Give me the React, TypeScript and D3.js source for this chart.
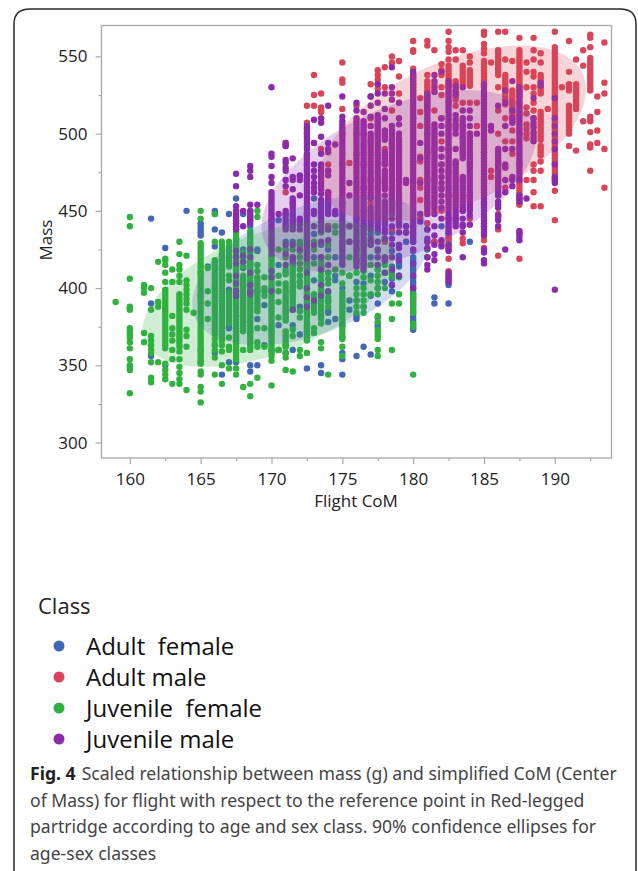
import React, { useEffect, useRef } from 'react'
import * as d3 from 'd3'

type Column = [number, number[]]

const adultFemale: Column[] = [
  [161.5, [445, 390, 356]],
  [162.5, [426, 350]],
  [164, [450]],
  [165, [442, 440, 438, 436, 434, 410, 395, 360, 352]],
  [165.5, [414]],
  [166, [450, 448, 438, 427, 417, 400, 363, 358]],
  [166.5, [436, 412, 344]],
  [167, [448, 420, 399, 397, 375, 374, 352]],
  [167.5, [458, 432, 405, 382, 360, 352]],
  [168, [448, 425, 413, 402, 378]],
  [168.5, [440, 416, 398, 372, 350, 346]],
  [169, [425, 424, 398, 380, 350]],
  [169.5, [389, 363]],
  [170, [444, 420, 400, 372, 360]],
  [170.5, [444, 415, 376, 360]],
  [171, [448, 430, 410, 385, 363, 358]],
  [171.5, [455, 444, 430, 416, 398, 376, 360]],
  [172, [444, 428, 408, 404, 388, 370]],
  [172.5, [448, 432, 416, 400, 394, 385, 372, 348]],
  [173, [458, 449, 435, 420, 405, 390]],
  [173.5, [442, 428, 414, 398, 382, 350, 345]],
  [174, [440, 425, 410, 392, 385, 384, 378]],
  [174.5, [448, 420, 408, 405, 380]],
  [175, [455, 440, 428, 415, 400, 388, 376, 368, 358, 354, 344]],
  [175.5, [430, 408, 392, 386]],
  [176, [445, 430, 418, 404, 392, 382, 380, 356]],
  [176.5, [440, 428, 416, 403, 388, 362]],
  [177, [435, 420, 408, 395, 357]],
  [177.5, [448, 436, 424, 412, 400, 390, 381, 377, 375]],
  [178, [446, 432, 418, 410, 404]],
  [178.5, [448, 436, 424, 414, 410, 406, 402, 398]],
  [179, [442, 428, 421, 418, 416, 414]],
  [179.5, [430]],
  [180, [440, 430, 424, 420, 418, 416, 414, 412, 410, 408, 406, 404, 402, 400, 398, 396, 394, 392, 390, 388, 386, 384, 382, 380, 378, 376, 374, 373]],
  [181, [438, 425, 420]],
  [181.5, [430, 394, 390]],
  [182, [440, 428]],
  [182.5, [436, 434, 432, 430, 428, 426, 425, 404, 402, 390]],
  [184, [430]],
]

const adultMale: Column[] = [
  [171, [494, 492, 462]],
  [172.5, [518, 507, 501, 486, 480, 470]],
  [173, [538, 525, 518, 494]],
  [173.5, [526, 517, 515, 514, 490, 470]],
  [174, [480, 476, 462, 440]],
  [175, [546, 535, 533, 516, 500, 480]],
  [175.5, [481]],
  [176, [518, 500, 487]],
  [176.5, [500, 480, 465, 450]],
  [177, [532, 524, 510, 495, 470, 455]],
  [177.5, [541, 538, 535, 532, 529, 500, 470, 445]],
  [178, [543, 530, 490, 480, 468, 450, 430]],
  [178.5, [550, 546, 515, 480, 465, 450, 438]],
  [179, [547, 537, 526, 490, 470, 455, 440]],
  [179.5, [440, 436]],
  [180, [560, 554, 553, 542, 538, 536, 534, 532, 530, 528, 526, 524, 510, 496, 482, 468, 455, 445]],
  [180.5, [523, 514, 505, 485, 482, 470, 465, 457, 445]],
  [181, [560, 557, 538, 534, 532, 530, 528, 526, 524, 522, 520, 518, 516, 500, 488, 470, 455, 442, 430]],
  [181.5, [554, 532, 528, 515, 490, 470, 450, 430]],
  [182, [545, 541, 538, 530, 525, 510, 495, 480, 465, 450, 430]],
  [182.5, [566, 560, 556, 553, 548, 544, 542, 540, 538, 536, 534, 532, 530, 520, 505, 490, 475, 460, 445, 432, 426, 419, 411, 408, 406]],
  [183, [554, 548, 534, 532, 530, 528, 526, 524, 522, 518, 505, 480, 460, 445]],
  [183.5, [554, 544, 542, 540, 538, 536, 534, 532, 520, 505, 488, 470, 450, 432, 429]],
  [184, [550, 546, 541, 539, 537, 535, 533, 531, 520, 500, 480, 460, 445]],
  [184.5, [520, 505]],
  [185, [566, 564, 558, 555, 552, 547, 545, 543, 541, 539, 537, 535, 533, 531, 520, 505, 488, 470, 455, 445, 440, 431, 426]],
  [185.5, [546, 476, 472]],
  [186, [566, 554, 552, 550, 548, 546, 544, 542, 540, 538, 530, 515, 500, 480, 460, 448, 446, 438, 421]],
  [186.5, [566, 548, 538, 536, 534, 532, 530, 528, 526, 524, 522, 519, 510, 495, 478, 465]],
  [187, [547, 528, 526, 524, 522, 520, 518, 516, 514, 512, 510, 508, 502, 495, 487]],
  [187.5, [562, 554, 552, 550, 548, 546, 544, 542, 540, 538, 536, 534, 532, 530, 528, 526, 524, 520, 512, 500, 480, 469, 467, 465, 463, 461, 459, 457, 455, 454, 436, 419]],
  [188, [546, 540, 530, 517, 513, 506, 503, 500, 497, 470]],
  [188.5, [562, 554, 548, 540, 537, 530, 526, 520, 515, 510, 505, 500, 496, 480, 476, 470, 462, 453]],
  [189, [552, 546, 538, 536, 534, 532, 530, 528, 526, 514, 512, 510, 508, 506, 504, 502, 500, 498, 496, 492, 490, 488, 486, 482, 476, 453]],
  [189.5, [516]],
  [190, [566, 556, 554, 552, 550, 548, 546, 544, 542, 540, 538, 536, 534, 532, 530, 528, 526, 524, 522, 520, 518, 516, 514, 512, 510, 508, 506, 504, 502, 500, 498, 496, 494, 492, 490, 488, 486, 484, 482, 480, 478, 476, 474, 472, 470, 463, 444]],
  [190.5, [530]],
  [191, [560, 540, 532, 530, 528, 518, 516, 514, 512, 510, 508, 506, 504, 502, 500, 492]],
  [191.5, [548, 532, 530, 528, 526, 524, 522, 520, 518, 516, 489]],
  [192, [554, 544, 508]],
  [192.5, [564, 562, 556, 549, 547, 545, 543, 541, 539, 537, 535, 533, 531, 529, 528, 511, 509, 508, 501, 493, 491, 476]],
  [193, [524, 514, 502, 494]],
  [193.5, [559, 533, 526, 490, 465]],
]

const juvenileFemale: Column[] = [
  [159, [391]],
  [160, [446, 440, 406, 388, 387, 386, 374, 372, 370, 368, 365, 361, 354, 350, 349, 347, 332]],
  [161, [402, 400, 397, 371, 365]],
  [161.5, [400, 386, 369, 366, 363, 360, 358, 352, 342, 339]],
  [162, [417, 391, 388, 352]],
  [162.5, [419, 418, 415, 410, 404, 399, 397, 395, 393, 391, 389, 387, 385, 383, 381, 379, 377, 375, 373, 371, 369, 367, 365, 363, 361, 351, 347, 344, 341]],
  [163, [412, 404, 382, 374, 370, 366, 360, 354, 338]],
  [163.5, [430, 422, 415, 412, 408, 404, 396, 394, 392, 390, 388, 386, 384, 382, 380, 378, 376, 374, 372, 370, 368, 366, 364, 362, 359, 354, 349, 345, 341, 338]],
  [164, [421, 405, 402, 399, 396, 393, 390, 386, 373, 369, 362, 334]],
  [164.5, [384]],
  [165, [450, 445, 429, 427, 425, 423, 421, 419, 417, 415, 413, 411, 409, 407, 405, 403, 401, 399, 397, 395, 393, 391, 389, 387, 385, 383, 381, 379, 377, 375, 373, 371, 369, 367, 365, 363, 361, 359, 357, 355, 353, 351, 346, 344, 336, 333, 326]],
  [165.5, [413, 398, 390, 380]],
  [166, [448, 430, 418, 416, 414, 412, 410, 408, 406, 404, 402, 400, 398, 396, 394, 392, 390, 388, 386, 384, 382, 380, 378, 376, 374, 372, 370, 367, 364, 360, 355, 344]],
  [166.5, [430, 428, 426, 424, 422, 420, 418, 416, 414, 412, 410, 408, 406, 404, 402, 400, 398, 396, 394, 392, 390, 388, 386, 384, 382, 380, 378, 376, 374, 372, 370, 368, 366, 363, 359, 350, 338]],
  [167, [430, 427, 424, 421, 418, 416, 414, 408, 405, 397, 395, 393, 391, 389, 387, 385, 383, 381, 379, 377, 368, 362, 360, 348]],
  [167.5, [450, 446, 444, 442, 440, 438, 436, 434, 432, 430, 428, 426, 424, 422, 420, 418, 416, 414, 412, 410, 408, 406, 404, 402, 400, 398, 396, 394, 392, 390, 388, 386, 384, 382, 380, 378, 376, 374, 372, 370, 368, 366, 364, 362, 360, 358, 356, 354, 348, 344]],
  [168, [423, 420, 417, 414, 408, 406, 404, 402, 400, 398, 396, 394, 392, 390, 388, 386, 384, 382, 380, 378, 376, 374, 372, 360, 336]],
  [168.5, [450, 446, 444, 437, 435, 433, 431, 429, 427, 425, 423, 421, 419, 417, 415, 413, 411, 409, 407, 405, 403, 401, 399, 397, 394, 392, 390, 388, 386, 384, 382, 380, 378, 376, 374, 372, 370, 368, 366, 364, 362, 360, 338, 330]],
  [169, [450, 446, 415, 411, 407, 405, 403, 401, 399, 397, 395, 393, 391, 389, 387, 385, 374, 365, 362, 342]],
  [169.5, [407, 400, 398, 395, 374, 362]],
  [170, [432, 428, 420, 418, 416, 414, 412, 410, 408, 406, 404, 402, 400, 398, 396, 394, 392, 390, 388, 386, 384, 382, 380, 378, 376, 374, 372, 370, 368, 366, 364, 362, 360, 358, 356, 353, 337]],
  [170.5, [425, 408, 403, 398, 391, 381, 360]],
  [171, [440, 425, 420, 412, 409, 403, 401, 399, 397, 395, 393, 391, 389, 387, 385, 383, 381, 379, 372, 370, 368, 366, 364, 362, 358, 355, 347]],
  [171.5, [425, 420, 414, 412, 410, 408, 406, 404, 402, 400, 398, 396, 394, 392, 390, 388, 386, 373, 369, 346]],
  [172, [430, 428, 424, 420, 416, 412, 408, 404, 401, 385, 381, 360, 356]],
  [172.5, [436, 432, 428, 424, 422, 420, 418, 416, 414, 412, 410, 408, 406, 404, 402, 400, 398, 396, 394, 392, 390, 388, 386, 384, 382, 380, 378, 376, 374, 372, 370, 368, 366, 358]],
  [173, [430, 425, 416, 396, 394, 392, 390, 388, 386, 384, 374, 371]],
  [173.5, [440, 436, 420, 417, 414, 411, 408, 405, 402, 399, 396, 394, 392, 390, 388, 386, 384, 382, 380, 377, 365, 361]],
  [174, [438, 428, 420, 410, 406, 403, 397, 394, 391, 388, 344]],
  [174.5, [440, 436, 412]],
  [175, [430, 420, 410, 403, 397, 395, 393, 391, 389, 387, 385, 383, 381, 379, 377, 375, 373, 371, 369, 367, 362, 356]],
  [175.5, [440, 420, 408]],
  [176, [425, 410, 400, 396, 392, 388, 384]],
  [176.5, [420, 411, 407, 400, 396, 392, 388, 384]],
  [177, [415, 405, 396]],
  [177.5, [412, 408, 404, 400, 396, 382, 378, 373, 371, 369, 367, 360, 356]],
  [178, [415, 400]],
  [178.5, [412, 409, 407, 390, 380, 360]],
  [179, [408, 407, 396, 390]],
  [180, [396, 394, 392, 389, 386, 384, 377, 375, 344]],
]

const juvenileMale: Column[] = [
  [167.5, [474, 466, 453, 450, 448, 446, 444, 442, 440, 438, 424, 420, 416, 408, 403, 398, 395]],
  [168, [450, 440, 421, 417]],
  [168.5, [479, 476, 472, 454, 450, 448, 446, 444, 442, 425, 420, 410, 402, 398, 396]],
  [169, [454]],
  [170, [530, 487, 485, 479, 472, 468, 462, 460, 458, 456, 454, 452, 450, 448, 446, 444, 442, 440, 438, 436, 434, 432, 430, 428, 426, 424, 422, 411, 407, 398]],
  [170.5, [448]],
  [171, [494, 492, 483, 481, 478, 476, 470, 466, 450, 448, 446, 444, 442, 440, 438, 428, 422, 415]],
  [171.5, [484, 472, 470, 464, 458, 456, 454, 452, 450, 448, 446, 444, 442, 440, 438, 428, 420, 418, 386]],
  [172, [473, 472, 470, 460, 445, 443, 441, 438, 425]],
  [172.5, [505, 503, 500, 498, 496, 494, 492, 490, 487, 485, 483, 481, 479, 477, 475, 473, 471, 469, 467, 465, 463, 461, 459, 457, 455, 453, 451, 449, 447, 445, 443, 441, 439, 437, 435, 433, 431, 429, 427, 425, 423, 421, 419, 410, 400, 394, 388]],
  [173, [509, 494, 480, 476, 472, 468, 465, 462, 450, 448, 440, 428, 392]],
  [173.5, [510, 507, 498, 487, 480, 478, 476, 474, 472, 468, 466, 464, 461, 457, 455, 453, 451, 449, 447, 445, 443, 441, 439, 437, 430, 420, 412, 402, 395]],
  [174, [518, 494, 490, 488, 476, 473, 462, 460, 458, 456, 454, 452, 450, 448, 438, 431, 415, 398]],
  [174.5, [493, 450, 448]],
  [175, [524, 511, 508, 506, 504, 502, 500, 498, 496, 494, 492, 490, 488, 486, 484, 482, 480, 478, 476, 474, 472, 470, 468, 466, 464, 462, 460, 458, 456, 454, 452, 450, 448, 446, 444, 442, 440, 438, 436, 434, 432, 430, 428, 426, 424, 422, 420, 418, 416]],
  [175.5, [468, 460, 440, 430]],
  [176, [520, 515, 510, 508, 506, 504, 502, 500, 498, 496, 494, 492, 490, 488, 486, 484, 482, 480, 478, 476, 474, 472, 470, 468, 466, 464, 462, 460, 458, 456, 454, 452, 450, 448, 446, 444, 442, 440, 438, 436, 434, 432, 430, 428, 426, 424, 422, 420, 418, 416, 414]],
  [176.5, [514, 508, 506, 504, 502, 500, 498, 496, 494, 492, 490, 488, 486, 484, 482, 480, 478, 476, 474, 472, 470, 468, 466, 464, 462, 460, 458, 456, 454, 452, 450, 448, 446, 444, 442, 440, 438, 436, 434, 432, 430, 428, 426, 424, 422, 420, 418, 416, 414, 412]],
  [177, [524, 518, 511, 505, 500, 498, 496, 494, 492, 490, 488, 486, 484, 482, 480, 478, 476, 474, 472, 470, 468, 466, 464, 462, 460, 458, 452, 450, 448, 446, 444, 442, 440, 438, 432, 430, 428]],
  [177.5, [532, 526, 520, 512, 510, 508, 506, 504, 502, 500, 498, 496, 494, 492, 490, 488, 486, 484, 482, 480, 478, 476, 474, 472, 470, 468, 466, 464, 462, 460, 458, 456, 454, 452, 450, 448, 446, 444, 442, 440, 438, 430, 425, 420, 415]],
  [178, [526, 516, 510, 502, 500, 498, 496, 488, 486, 484, 482, 480, 476, 474, 472, 470, 468, 466, 464, 460, 456, 454, 452, 450, 448, 445, 443, 441, 438, 436, 432, 420, 418, 410]],
  [178.5, [543, 530, 526, 522, 505, 502, 500, 498, 496, 494, 492, 490, 488, 486, 484, 482, 480, 478, 476, 474, 472, 470, 468, 466, 464, 462, 460, 458, 456, 454, 452, 450, 445, 440, 432, 428, 420, 412, 402]],
  [179, [520, 510, 506, 500, 497, 495, 493, 491, 489, 487, 485, 483, 481, 479, 477, 475, 473, 471, 469, 467, 465, 463, 461, 459, 457, 455, 453, 451, 449, 447, 445, 443, 441, 436, 428, 426, 418, 408]],
  [179.5, [470, 468, 440, 436]],
  [180, [540, 538, 536, 534, 532, 530, 528, 526, 524, 522, 520, 518, 516, 514, 512, 510, 508, 506, 504, 502, 500, 498, 496, 494, 492, 490, 488, 486, 484, 482, 480, 478, 476, 474, 472, 470, 468, 466, 464, 462, 460, 458, 456, 454, 452, 450, 448, 446, 444, 442, 440, 438, 436, 434, 432, 430, 425, 416, 408, 400]],
  [180.5, [494, 484, 468, 448, 443]],
  [181, [526, 524, 522, 520, 518, 516, 514, 512, 510, 508, 506, 504, 502, 500, 498, 496, 494, 492, 490, 488, 486, 484, 482, 480, 478, 476, 474, 472, 470, 468, 466, 464, 462, 460, 458, 456, 454, 452, 450, 448, 438, 432, 430, 426, 420, 415, 412]],
  [181.5, [538, 534, 530, 527, 506, 504, 502, 500, 498, 496, 494, 492, 490, 488, 486, 484, 482, 480, 478, 476, 474, 472, 470, 468, 466, 464, 462, 460, 458, 456, 454, 452, 448, 440, 434, 428, 422, 418]],
  [182, [540, 510, 505, 500, 490, 485, 480, 476, 472, 468, 464, 460, 456, 452, 445, 431, 427]],
  [182.5, [534, 532, 530, 528, 526, 524, 522, 520, 518, 516, 514, 512, 510, 508, 506, 504, 502, 500, 498, 496, 494, 492, 490, 488, 486, 484, 482, 480, 478, 476, 474, 472, 470, 468, 466, 464, 462, 460, 458, 456, 454, 452, 450, 448, 446, 444, 442, 440, 438, 436, 428, 424, 410, 408, 406, 404]],
  [183, [531, 528, 525, 512, 509, 506, 503, 500, 490, 482, 480, 478, 476, 474, 472, 470, 468, 466, 464, 462, 460, 458, 456, 454, 452, 450, 448, 446, 444, 442, 440]],
  [183.5, [530, 515, 510, 508, 506, 504, 502, 500, 498, 496, 494, 492, 490, 488, 486, 484, 472, 470, 468, 466, 464, 462, 460, 458, 456, 454, 452, 450, 445, 441, 440, 436, 420]],
  [184, [515, 510, 505, 500, 498, 496, 494, 492, 490, 488, 486, 484, 482, 480, 478, 476, 474, 472, 470, 468, 466, 464, 462, 460, 458, 456, 454, 452, 450, 447, 441]],
  [184.5, [500]],
  [185, [532, 530, 528, 526, 524, 522, 520, 518, 516, 514, 512, 510, 508, 506, 504, 502, 500, 498, 496, 494, 492, 490, 488, 486, 484, 482, 480, 478, 476, 474, 472, 470, 468, 466, 464, 462, 460, 458, 456, 454, 452, 450, 448, 446, 444, 442, 440, 438, 436, 434, 425, 423, 418, 416]],
  [185.5, [505, 502]],
  [186, [518, 490, 488, 486, 484, 482, 480, 478, 476, 474, 472, 470, 468, 466, 464, 462, 460, 456, 454, 452, 447, 444, 440]],
  [186.5, [528, 520, 505, 490, 480, 478, 470, 462, 425]],
  [187, [534, 515, 510, 507, 490, 472, 470, 466]],
  [187.5, [530, 528, 526, 524, 522, 520, 518, 516, 514, 512, 510, 508, 506, 504, 502, 500, 498, 496, 494, 492, 490, 488, 486, 484, 482, 480, 478, 476, 474, 472, 470, 460, 458, 456, 437, 435, 433, 431]],
  [188, [458]],
  [188.5, [523, 510, 507, 504, 501, 498, 495]],
  [189, [533, 531]],
  [190, [523, 510, 505, 500, 495, 490, 480, 472, 470, 468, 399]],
]

const seriesNames = ['Adult  female', 'Adult male', 'Juvenile  female', 'Juvenile male']
const seriesColors = ['#4366b5', '#da4458', '#30b23f', '#8b2bab']

// 90% ellipses per class: centre, half extents, correlation
const ellipseCentreX = [172.8, 182.8, 169.75, 179]
const ellipseCentreY = [411.5, 500, 396.5, 469.3]
const ellipseSpreadX = [8.4, 9.4, 8.85, 9.7]
const ellipseSpreadY = [48.5, 57, 47.5, 58.9]
const ellipseCorr = [0.45, 0.5, 0.5, 0.5]

const xMajor = [160, 165, 170, 175, 180, 185, 190]
const xMinor = [162.5, 167.5, 172.5, 177.5, 182.5, 187.5, 192.5]
const yMajor = [300, 350, 400, 450, 500, 550]
const yMinor = [325, 375, 425, 475, 525]

const captionLines = [
  'Scaled relationship between mass (g) and simplified CoM (Center',
  'of Mass) for flight with respect to the reference point in Red-legged',
  'partridge according to age and sex class. 90% confidence ellipses for',
  'age-sex classes',
]

const WIDTH = 638
const HEIGHT = 871
const plot = { left: 101.5, right: 611.5, top: 25.5, bottom: 458 }
const AXIS_COLOR = '#a8a8a8'
const TICK_FONT = '"Open Sans", sans-serif'
const CAPTION_FONT = '"Noto Sans", sans-serif'

export default function App() {
  const svgRef = useRef<SVGSVGElement>(null)

  useEffect(() => {
    if (!svgRef.current) return
    const svg = d3.select(svgRef.current)
    svg.selectAll('*').remove()

    // card outline
    svg.append('path')
      .attr('d', `M14,871 V24 Q14,9 30,9 H620 Q636,9 636,24 V871`)
      .attr('fill', 'none')
      .attr('stroke', '#2a2a2a')
      .attr('stroke-width', 1.5)

    const x = d3.scaleLinear().domain([158, 194]).range([plot.left, plot.right])
    const y = d3.scaleLinear().domain([290, 570]).range([plot.bottom, plot.top])

    // Points
    const allSeries = [adultFemale, adultMale, juvenileFemale, juvenileMale]
    allSeries.forEach((columns, i) => {
      const points = columns.flatMap(([com, masses]) => masses.map(m => [com, m] as [number, number]))
      svg.append('g')
        .selectAll('circle')
        .data(points)
        .enter()
        .append('circle')
        .attr('cx', d => x(d[0]))
        .attr('cy', d => y(d[1]))
        .attr('r', 3.2)
        .attr('fill', seriesColors[i])
    })

    // Ellipses sit above the points
    const angles = d3.range(0, Math.PI * 2, Math.PI / 60)
    seriesColors.forEach((color, i) => {
      const rho = ellipseCorr[i]
      const line = d3.line<number>()
        .x(t => x(ellipseCentreX[i] + ellipseSpreadX[i] * Math.cos(t)))
        .y(t => y(ellipseCentreY[i] + ellipseSpreadY[i] * (rho * Math.cos(t) + Math.sqrt(1 - rho * rho) * Math.sin(t))))
        .curve(d3.curveLinearClosed)
      svg.append('path')
        .attr('d', line(angles))
        .attr('fill', color)
        .attr('fill-opacity', 0.23)
    })

    // Frame
    svg.append('rect')
      .attr('x', plot.left)
      .attr('y', plot.top)
      .attr('width', plot.right - plot.left)
      .attr('height', plot.bottom - plot.top)
      .attr('fill', 'none')
      .attr('stroke', AXIS_COLOR)
      .attr('stroke-width', 1.3)

    // Axes
    const styleAxis = (g: d3.Selection<SVGGElement, unknown, null, undefined>) => {
      g.select('.domain').remove()
      g.selectAll('line').attr('stroke', AXIS_COLOR).attr('stroke-width', 1.2)
      g.selectAll('text')
        .attr('fill', '#222')
        .style('font-family', TICK_FONT)
        .style('font-size', '17px')
    }

    svg.append('g')
      .attr('transform', `translate(0,${plot.bottom})`)
      .call(d3.axisBottom(x).tickValues(xMajor).tickSize(6).tickPadding(9).tickFormat(d3.format('d')))
      .call(styleAxis)
    svg.append('g')
      .attr('transform', `translate(0,${plot.bottom})`)
      .call(d3.axisBottom(x).tickValues(xMinor).tickSize(3).tickFormat(() => ''))
      .call(styleAxis)
    svg.append('g')
      .attr('transform', `translate(${plot.left},0)`)
      .call(d3.axisLeft(y).tickValues(yMajor).tickSize(6).tickPadding(8).tickFormat(d3.format('d')))
      .call(styleAxis)
    svg.append('g')
      .attr('transform', `translate(${plot.left},0)`)
      .call(d3.axisLeft(y).tickValues(yMinor).tickSize(3).tickFormat(() => ''))
      .call(styleAxis)

    svg.append('text')
      .attr('x', 356)
      .attr('y', 507)
      .attr('text-anchor', 'middle')
      .attr('fill', '#222')
      .style('font-family', TICK_FONT)
      .style('font-size', '17px')
      .text('Flight CoM')

    svg.append('text')
      .attr('transform', 'translate(52,240) rotate(-90)')
      .attr('text-anchor', 'middle')
      .attr('fill', '#222')
      .style('font-family', TICK_FONT)
      .style('font-size', '17px')
      .text('Mass')

    // Legend
    svg.append('text')
      .attr('x', 38)
      .attr('y', 614)
      .attr('fill', '#222')
      .style('font-family', TICK_FONT)
      .style('font-size', '22px')
      .text('Class')

    const legendY = d3.scalePoint<string>().domain(seriesNames).range([646, 739])
    const legend = svg.append('g')
      .selectAll('g')
      .data(seriesNames)
      .enter()
      .append('g')
      .attr('transform', d => `translate(0,${legendY(d)})`)
    legend.append('circle')
      .attr('cx', 59)
      .attr('r', 5.5)
      .attr('fill', (_, i) => seriesColors[i])
    legend.append('text')
      .attr('x', 86)
      .attr('y', 9)
      .attr('fill', '#111')
      .style('font-family', TICK_FONT)
      .style('font-size', '24px')
      .style('white-space', 'pre')
      .text(d => d)

    // Caption
    const caption = svg.append('g')
      .style('font-family', CAPTION_FONT)
      .style('font-size', '17.6px')
      .attr('fill', '#444')
    const firstLine = caption.append('text').attr('x', 30).attr('y', 780)
    firstLine.append('tspan').attr('font-weight', 700).attr('fill', '#222').text('Fig. 4')
    firstLine.append('tspan').attr('dx', 6).text(captionLines[0])
    captionLines.slice(1).forEach((t, i) => {
      caption.append('text')
        .attr('x', 30)
        .attr('y', 806.5 + i * 26.5)
        .text(t)
    })
  }, [])

  return (
    <svg
      ref={svgRef}
      width={WIDTH}
      height={HEIGHT}
      style={{ position: 'absolute', left: 0, top: 0, background: '#fff' }}
    />
  )
}
